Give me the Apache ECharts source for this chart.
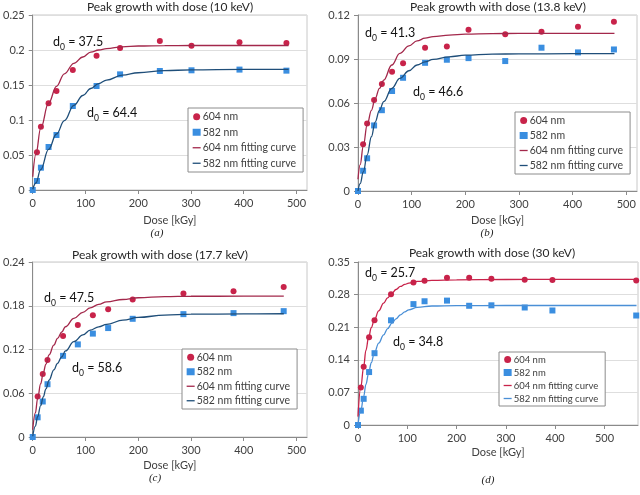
<!DOCTYPE html>
<html>
<head>
<meta charset="utf-8">
<script src="https://cdn.jsdelivr.net/npm/echarts@6/dist/echarts.min.js"></script>
<style>
html,body{margin:0;padding:0;background:#fff;}
#chart{width:640px;height:495px;}
</style>
</head>
<body>
<div id="chart"></div>
<script>
// ---------- data ----------
const titles = ['Peak growth with dose (10 keV)', 'Peak growth with dose (13.8 keV)', 'Peak growth with dose (17.7 keV)', 'Peak growth with dose (30 keV)'];
const captions = ['(a)', '(b)', '(c)', '(d)'];
const d0Red = ['37.5', '41.3', '47.5', '25.7'];
const d0Blue = ['64.4', '46.6', '58.6', '34.8'];
const seriesNames = ['604 nm', '582 nm', '604 nm fitting curve', '582 nm fitting curve'];
const xAxisName = 'Dose [kGy]';

const xTicks = [0, 100, 200, 300, 400, 500];
const xAxisMax = [520, 520, 520, 568];
const yTicksA = [0, 0.05, 0.1, 0.15, 0.2, 0.25];
const yTicksB = [0, 0.03, 0.06, 0.09, 0.12];
const yTicksC = [0, 0.06, 0.12, 0.18, 0.24];
const yTicksD = [0, 0.07, 0.14, 0.21, 0.28, 0.35];

// (a) 10 keV
const aDose = [0, 8, 15.5, 30, 45, 76, 121, 165.6, 241, 301, 392, 481];
const a604 = [null, 0.054, 0.0905, 0.1238, 0.1414, 0.1714, 0.1919, 0.2029, 0.213, 0.206, 0.211, 0.210];
const a582 = [0, 0.0129, 0.0319, 0.0614, 0.0786, 0.120, 0.1486, 0.1652, 0.170, 0.171, 0.172, 0.1705];
const aFitDose = [0, 6, 15, 30, 45, 60, 78, 95, 110, 125, 140, 170, 200, 250, 300, 400, 485];
const aFit604 = [0.019, 0.051, 0.088, 0.124, 0.148, 0.166, 0.181, 0.190, 0.197, 0.200, 0.202, 0.2045, 0.2057, 0.2063, 0.2064, 0.2064, 0.2064];
const aFit582 = [0.001, 0.010, 0.029, 0.058, 0.080, 0.099, 0.121, 0.135, 0.145, 0.152, 0.157, 0.164, 0.1675, 0.1705, 0.1717, 0.1723, 0.1724];

// (b) 13.8 keV
const bDose = [0, 9.5, 17, 30, 44.5, 63.5, 84, 125, 165.6, 206, 274.4, 342, 410, 477];
const b604 = [null, 0.0318, 0.046, 0.0621, 0.0729, 0.0813, 0.0871, 0.0976, 0.0985, 0.110, 0.1068, 0.1086, 0.112, 0.1154];
const b582 = [0, 0.0138, 0.0223, 0.0447, 0.0551, 0.0682, 0.0772, 0.0874, 0.0895, 0.0906, 0.0886, 0.0977, 0.0945, 0.0965];
const bFitDose = [0, 4, 10, 17, 25, 32, 40, 48, 63, 78, 95, 110, 125, 140, 170, 200, 250, 300, 400, 478];
const bFit604 = [0.008, 0.018, 0.031, 0.045, 0.055, 0.063, 0.070, 0.0756, 0.0859, 0.0939, 0.099, 0.1023, 0.1042, 0.1052, 0.1063, 0.1069, 0.1073, 0.1075, 0.1075, 0.1075];
const bFit582 = [0, 0.005, 0.013, 0.0245, 0.037, 0.047, 0.055, 0.061, 0.070, 0.0768, 0.082, 0.0859, 0.088, 0.0897, 0.0915, 0.0926, 0.0933, 0.0935, 0.0936, 0.0936];

// (c) 17.7 keV
const cDose = [0, 9.3, 19, 28, 57.5, 85.5, 114, 143, 189.5, 285.7, 380.7, 475.8];
const c604 = [null, 0.0556, 0.0863, 0.1056, 0.1384, 0.1535, 0.1671, 0.1751, 0.1885, 0.1967, 0.1999, 0.2058];
const c582 = [0, 0.027, 0.0487, 0.0724, 0.1113, 0.127, 0.1418, 0.1494, 0.1621, 0.1685, 0.1699, 0.1726];
const cFitDose = [0, 5, 9.3, 15, 20, 25, 31, 40, 47, 55, 62, 78, 95, 109, 125, 140, 171, 200, 250, 300, 400, 476];
const cFit604 = [0.010, 0.033, 0.053, 0.073, 0.088, 0.100, 0.1125, 0.126, 0.1353, 0.144, 0.1512, 0.1626, 0.171, 0.1771, 0.1818, 0.1853, 0.1886, 0.1910, 0.1925, 0.1930, 0.1931, 0.1931];
const cFit582 = [0.001, 0.015, 0.028, 0.043, 0.055, 0.066, 0.078, 0.092, 0.101, 0.110, 0.118, 0.1307, 0.140, 0.1466, 0.151, 0.1544, 0.1603, 0.164, 0.1672, 0.1684, 0.1689, 0.169];

// (d) 30 keV
const dDose = [0, 5.8, 11.5, 22.5, 33.5, 67, 112.5, 135, 180.5, 225.5, 270.6, 338.2, 394.4, 564.4];
const d604 = [null, 0.0803, 0.125, 0.1886, 0.2248, 0.2808, 0.3062, 0.3095, 0.316, 0.3163, 0.314, 0.3119, 0.3112, 0.3104];
const d582 = [0, 0.0308, 0.0562, 0.1137, 0.1542, 0.2248, 0.2596, 0.2657, 0.2671, 0.256, 0.257, 0.2523, 0.2459, 0.2351];
const dFitDose = [0, 5.5, 11.5, 16, 21.5, 27, 33, 42, 52, 60, 69, 77, 86, 95, 103, 120, 150, 200, 300, 400, 565];
const dFit604 = [0.018, 0.080, 0.125, 0.160, 0.188, 0.209, 0.225, 0.245, 0.2617, 0.273, 0.2833, 0.291, 0.2975, 0.302, 0.3048, 0.3082, 0.3104, 0.3118, 0.3124, 0.3126, 0.3126];
const dFit582 = [0, 0.030, 0.061, 0.087, 0.111, 0.134, 0.1542, 0.176, 0.1936, 0.207, 0.2187, 0.228, 0.2366, 0.243, 0.2474, 0.2525, 0.2555, 0.2564, 0.2566, 0.2566, 0.2566];

// ---------- styles / layout ----------
const FONT = 'Lato, "Open Sans", sans-serif';
const RED = '#c8234a';
const BLUE = '#3a8ee0';
const fitRed = ['#a3284b', '#a3284b', '#a3284b', '#c8234a'];
const fitBlue = ['#1f4e79', '#1f4e79', '#1f4e79', '#4a8fd6'];
const NONE = 'rgba(0,0,0,0)';

const panels = [
  {dose: aDose, r: a604, b: a582, fx: aFitDose, fr: aFit604, fb: aFit582, yT: yTicksA},
  {dose: bDose, r: b604, b: b582, fx: bFitDose, fr: bFit604, fb: bFit582, yT: yTicksB},
  {dose: cDose, r: c604, b: c582, fx: cFitDose, fr: cFit604, fb: cFit582, yT: yTicksC},
  {dose: dDose, r: d604, b: d582, fx: dFitDose, fr: dFit604, fb: dFit582, yT: yTicksD}
];
const layout = [
  {grid: {left: 28, top: 15, width: 279, height: 175}, title: [170, 7], cap: [157, 233], leg: {left: 188, top: 108, fs: 10.5, lh: 13.5}, dR: [53, 42], dB: [87, 113], nameGap: 25},
  {grid: {left: 358, top: 15, width: 279, height: 176}, title: [498, 7], cap: [487, 233], leg: {left: 515, top: 112, fs: 10.5, lh: 13}, dR: [365, 33], dB: [413, 92], nameGap: 24},
  {grid: {left: 28, top: 262, width: 279, height: 175}, title: [160, 255], cap: [155, 478], leg: {left: 182, top: 349, fs: 10.5, lh: 12.5}, dR: [44, 298], dB: [72, 368], nameGap: 23},
  {grid: {left: 358, top: 262, width: 280, height: 163}, title: [492, 253], cap: [488, 480], leg: {left: 499, top: 352, fs: 9.5, lh: 11}, dR: [365, 273], dB: [393, 342], nameGap: 22}
];

const zip = (xs, ys) => xs.map((x, i) => [x, ys[i]]).filter(p => p[1] !== null);

const grid = [], xAxis = [], yAxis = [], series = [], legend = [], graphic = [];
panels.forEach((p, i) => {
  const L = layout[i];
  grid.push(Object.assign({show: true, borderColor: '#c8c8c8', borderWidth: 1, backgroundColor: 'transparent'}, L.grid));
  xAxis.push({
    type: 'value', gridIndex: i, min: 0, max: xAxisMax[i],
    name: xAxisName, nameLocation: 'middle', nameGap: L.nameGap,
    nameTextStyle: {fontFamily: FONT, fontSize: 11, color: '#404040'},
    axisLine: {show: true, onZero: false, lineStyle: {color: '#8a8a8a'}},
    axisTick: {show: true, length: 4, customValues: xTicks, lineStyle: {color: '#8a8a8a'}},
    axisLabel: {customValues: xTicks, margin: 8, fontFamily: FONT, fontSize: 11, color: '#404040'},
    splitLine: {show: false}
  });
  yAxis.push({
    type: 'value', gridIndex: i, min: p.yT[0], max: p.yT[p.yT.length - 1], interval: p.yT[1] - p.yT[0],
    axisLine: {show: true, onZero: false, lineStyle: {color: '#8a8a8a'}},
    axisTick: {show: true, length: 4, lineStyle: {color: '#8a8a8a'}},
    axisLabel: {margin: 8, fontFamily: FONT, fontSize: 11, color: '#404040'},
    splitLine: {show: true, lineStyle: {color: '#dedede'}}
  });
  series.push({
    type: 'scatter', name: seriesNames[0], xAxisIndex: i, yAxisIndex: i,
    symbol: 'circle', symbolSize: 6, itemStyle: {color: RED, opacity: 1}, data: zip(p.dose, p.r), z: 2
  });
  series.push({
    type: 'scatter', name: seriesNames[1], xAxisIndex: i, yAxisIndex: i,
    symbol: 'rect', symbolSize: 6, itemStyle: {color: BLUE, opacity: 1}, data: zip(p.dose, p.b), z: 2
  });
  series.push({
    type: 'line', name: seriesNames[2], xAxisIndex: i, yAxisIndex: i,
    symbol: 'none', showSymbol: false, smooth: 0.4, smoothMonotone: 'x',
    lineStyle: {color: fitRed[i], width: 1.3}, itemStyle: {color: fitRed[i]},
    data: zip(p.fx, p.fr), z: 3
  });
  series.push({
    type: 'line', name: seriesNames[3], xAxisIndex: i, yAxisIndex: i,
    symbol: 'none', showSymbol: false, smooth: 0.4, smoothMonotone: 'x',
    lineStyle: {color: fitBlue[i], width: 1.3}, itemStyle: {color: fitBlue[i]},
    data: zip(p.fx, p.fb), z: 3
  });
  legend.push({
    left: L.leg.left, top: L.leg.top, orient: 'vertical', align: 'left',
    itemWidth: 8, itemHeight: 7, itemGap: 2, padding: [2, 7, 2, 4],
    borderColor: '#8c8c8c', borderWidth: 1, backgroundColor: '#fff',
    selectedMode: false,
    textStyle: {fontFamily: FONT, fontSize: L.leg.fs, lineHeight: L.leg.lh, color: '#404040', padding: [0, 0, 0, -3]},
    data: [
      {name: seriesNames[0], icon: 'circle', itemStyle: {color: RED}},
      {name: seriesNames[1], icon: 'rect', itemStyle: {color: BLUE}},
      {name: seriesNames[2], lineStyle: {color: fitRed[i], width: 1.3}, itemStyle: {color: NONE, borderColor: NONE, borderWidth: 0}},
      {name: seriesNames[3], lineStyle: {color: fitBlue[i], width: 1.3}, itemStyle: {color: NONE, borderColor: NONE, borderWidth: 0}}
    ]
  });
  graphic.push({
    type: 'text', x: L.title[0], y: L.title[1], z: 10,
    style: {text: titles[i], fontFamily: FONT, fontSize: 12, fill: '#262626', align: 'center', verticalAlign: 'middle'}
  });
  graphic.push({
    type: 'text', x: L.cap[0], y: L.cap[1], z: 10,
    style: {text: captions[i], fontFamily: '"Liberation Serif", serif', fontStyle: 'italic', fontSize: 11, fill: '#222', align: 'center', verticalAlign: 'middle'}
  });
  [[L.dR, d0Red[i]], [L.dB, d0Blue[i]]].forEach(([xy, val]) => {
    graphic.push({
      type: 'text', x: xy[0], y: xy[1], z: 10,
      style: {
        text: '{m|d}{s|0}{m| = ' + val + '}',
        align: 'left', verticalAlign: 'middle',
        rich: {
          m: {fontFamily: FONT, fontSize: 12.5, fill: '#111', lineHeight: 20, verticalAlign: 'middle'},
          s: {fontFamily: FONT, fontSize: 8.5, fill: '#111', lineHeight: 10, verticalAlign: 'bottom'}
        }
      }
    });
  });
});

const chart = echarts.init(document.getElementById('chart'), null, {renderer: 'canvas'});
chart.setOption({
  animation: false,
  backgroundColor: '#fff',
  grid, xAxis, yAxis, series, legend, graphic
});
</script>
</body>
</html>
